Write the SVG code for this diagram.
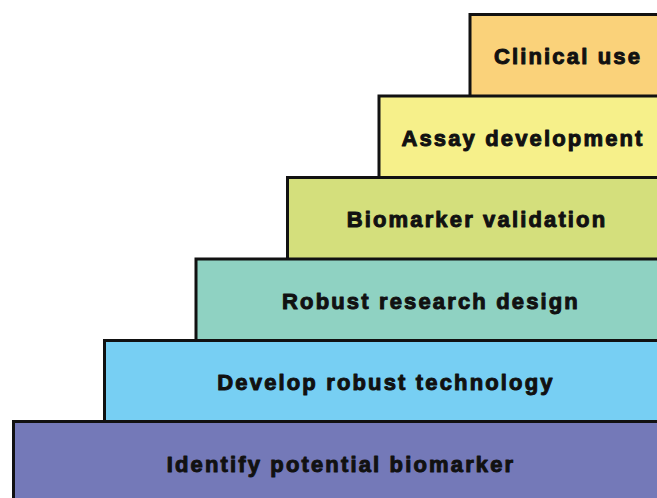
<svg xmlns="http://www.w3.org/2000/svg" width="657" height="498" viewBox="0 0 657 498">
<style>
.s{stroke:#111;stroke-width:3}
text{font-family:"Liberation Sans",Arial,sans-serif;font-weight:700;font-size:22px;letter-spacing:2.15px;fill:#111;stroke:#111;stroke-width:1;stroke-linejoin:round;text-anchor:middle}
</style>
<rect width="657" height="498" fill="#fff"/>
<g id="clinical-use"><rect class="s" x="470" y="14.5" width="200" height="90" fill="#FAD27A"/><text x="568" y="64">Clinical use</text></g>
<g id="assay-development"><rect class="s" x="379" y="96" width="300" height="90" fill="#F6F08A"/><text x="523" y="146">Assay development</text></g>
<g id="biomarker-validation"><rect class="s" x="287.5" y="177.5" width="400" height="90" fill="#D4DF7C"/><text x="477" y="227">Biomarker validation</text></g>
<g id="robust-research-design"><rect class="s" x="196" y="259" width="500" height="90" fill="#8FD2C2"/><text x="431" y="309">Robust research design</text></g>
<g id="develop-robust-technology"><rect class="s" x="104.5" y="340.5" width="600" height="90" fill="#77CFF3"/><text x="386" y="390">Develop robust technology</text></g>
<g id="identify-potential-biomarker"><rect class="s" x="13.5" y="421.5" width="700" height="100" fill="#7479B8"/><text x="341" y="472">Identify potential biomarker</text></g>
<g id="connectors"/>
</svg>
